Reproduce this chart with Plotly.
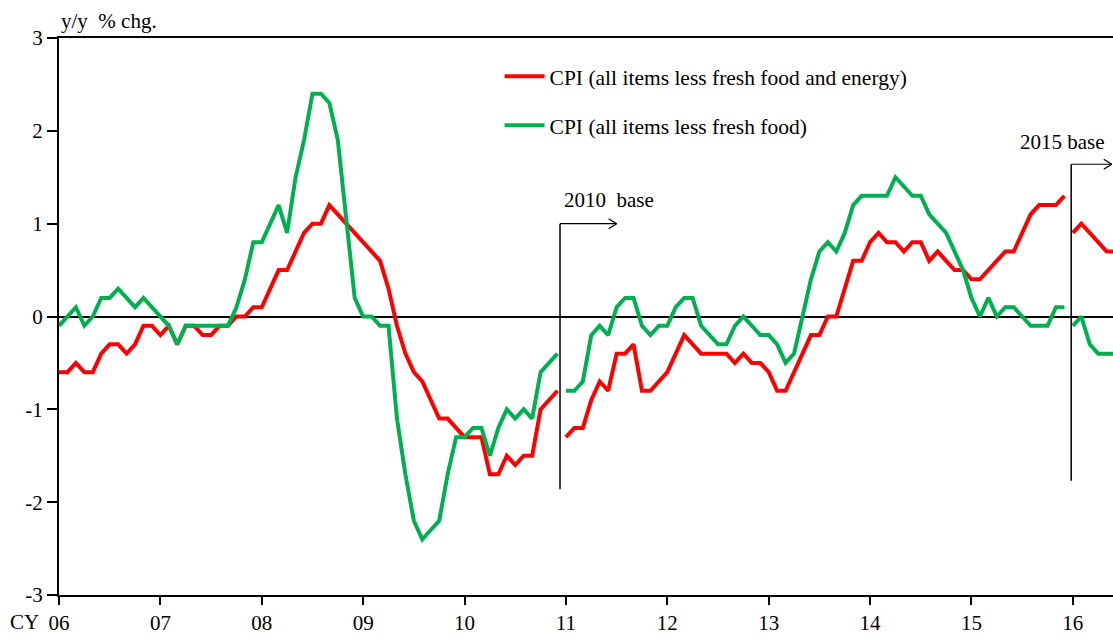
import plotly.graph_objects as go

# ---- data (y/y % chg., monthly, Jan 2006 - Jun 2016) ----
years = ["06", "07", "08", "09", "10", "11", "12", "13", "14", "15", "16"]
y_ticks = [-3, -2, -1, 0, 1, 2, 3]
y_ticktext = ["-3", "-2", "-1", "0", "1", "2", "3"]

# 2005 base: Jan 2006 - Dec 2010
core_core_2005 = [
    -0.6, -0.6, -0.5, -0.6, -0.6, -0.4, -0.3, -0.3, -0.4, -0.3, -0.1, -0.1,
    -0.2, -0.1, -0.3, -0.1, -0.1, -0.2, -0.2, -0.1, -0.1, 0.0, 0.0, 0.1,
    0.1, 0.3, 0.5, 0.5, 0.7, 0.9, 1.0, 1.0, 1.2, 1.1, 1.0, 0.9,
    0.8, 0.7, 0.6, 0.3, -0.1, -0.4, -0.6, -0.7, -0.9, -1.1, -1.1, -1.2,
    -1.3, -1.3, -1.3, -1.7, -1.7, -1.5, -1.6, -1.5, -1.5, -1.0, -0.9, -0.8,
]
core_2005 = [
    -0.1, 0.0, 0.1, -0.1, 0.0, 0.2, 0.2, 0.3, 0.2, 0.1, 0.2, 0.1,
    0.0, -0.1, -0.3, -0.1, -0.1, -0.1, -0.1, -0.1, -0.1, 0.1, 0.4, 0.8,
    0.8, 1.0, 1.2, 0.9, 1.5, 1.9, 2.4, 2.4, 2.3, 1.9, 1.0, 0.2,
    0.0, 0.0, -0.1, -0.1, -1.1, -1.7, -2.2, -2.4, -2.3, -2.2, -1.7, -1.3,
    -1.3, -1.2, -1.2, -1.5, -1.2, -1.0, -1.1, -1.0, -1.1, -0.6, -0.5, -0.4,
]
# 2010 base: Jan 2011 - Dec 2015
core_core_2010 = [
    -1.3, -1.2, -1.2, -0.9, -0.7, -0.8, -0.4, -0.4, -0.3, -0.8, -0.8, -0.7,
    -0.6, -0.4, -0.2, -0.3, -0.4, -0.4, -0.4, -0.4, -0.5, -0.4, -0.5, -0.5,
    -0.6, -0.8, -0.8, -0.6, -0.4, -0.2, -0.2, 0.0, 0.0, 0.3, 0.6, 0.6,
    0.8, 0.9, 0.8, 0.8, 0.7, 0.8, 0.8, 0.6, 0.7, 0.6, 0.5, 0.5,
    0.4, 0.4, 0.5, 0.6, 0.7, 0.7, 0.9, 1.1, 1.2, 1.2, 1.2, 1.3,
]
core_2010 = [
    -0.8, -0.8, -0.7, -0.2, -0.1, -0.2, 0.1, 0.2, 0.2, -0.1, -0.2, -0.1,
    -0.1, 0.1, 0.2, 0.2, -0.1, -0.2, -0.3, -0.3, -0.1, 0.0, -0.1, -0.2,
    -0.2, -0.3, -0.5, -0.4, 0.0, 0.4, 0.7, 0.8, 0.7, 0.9, 1.2, 1.3,
    1.3, 1.3, 1.3, 1.5, 1.4, 1.3, 1.3, 1.1, 1.0, 0.9, 0.7, 0.5,
    0.2, 0.0, 0.2, 0.0, 0.1, 0.1, 0.0, -0.1, -0.1, -0.1, 0.1, 0.1,
]
# 2015 base: Jan 2016 - Jun 2016
core_core_2015 = [0.9, 1.0, 0.9, 0.8, 0.7, 0.7]
core_2015 = [-0.1, 0.0, -0.3, -0.4, -0.4, -0.4]

name_red = "CPI (all items less fresh food and energy)"
name_green = "CPI (all items less fresh food)"


def join_segments(segments):
    xs, ys = [], []
    start = 0
    for seg in segments:
        if xs:
            xs.append(None)
            ys.append(None)
        xs.extend(range(start, start + len(seg)))
        ys.extend(seg)
        start += len(seg)
    return xs, ys


xr, yr = join_segments([core_core_2005, core_core_2010, core_core_2015])
xg, yg = join_segments([core_2005, core_2010, core_2015])

FONT = "Liberation Serif, Times New Roman, serif"
RED = "#FF0000"
GREEN = "#00B050"

fig = go.Figure()
fig.add_trace(go.Scatter(x=xr, y=yr, mode="lines", name=name_red,
                         line=dict(color=RED, width=4), connectgaps=False,
                         legendgroup="a"))
fig.add_trace(go.Scatter(x=xg, y=yg, mode="lines", name=name_green,
                         line=dict(color=GREEN, width=4), connectgaps=False,
                         legendgroup="b"))

tickvals = [12 * i for i in range(len(years))]

fig.update_layout(
    width=1113, height=635,
    margin=dict(l=59, r=0, t=38, b=37),
    paper_bgcolor="white", plot_bgcolor="white",
    font=dict(family=FONT, size=21, color="black"),
    showlegend=True,
    legend=dict(x=0.418, y=0.968, xanchor="left", yanchor="top",
                bgcolor="rgba(0,0,0,0)", font=dict(size=21.5, family=FONT),
                tracegroupgap=18, itemwidth=40),
    xaxis=dict(range=[0, 124.75], tickvals=tickvals, ticktext=years,
               showgrid=False, zeroline=False, showline=True,
               linecolor="black", linewidth=2, mirror=True,
               ticks="outside", ticklen=8, tickwidth=1.5, tickcolor="black",
               tickfont=dict(size=21, family=FONT)),
    yaxis=dict(range=[-3, 3], tickvals=y_ticks, ticktext=y_ticktext,
               showgrid=False,
               zeroline=True, zerolinecolor="black", zerolinewidth=1.5,
               showline=True, linecolor="black", linewidth=2,
               ticks="outside", ticklen=10, tickwidth=1.5, tickcolor="black",
               tickfont=dict(size=21, family=FONT)),
)

# axis unit and "CY" prefix
fig.add_annotation(text="y/y  % chg.", xref="paper", yref="paper",
                   x=0, y=1, xanchor="left", yanchor="bottom",
                   showarrow=False, font=dict(size=21, family=FONT), yshift=3)
fig.add_annotation(text="CY", xref="paper", yref="paper",
                   x=0, y=0, xanchor="right", yanchor="top",
                   showarrow=False, font=dict(size=21, family=FONT),
                   xshift=-18, yshift=-13)

# base-change markers
bases = [
    dict(label="2010  base", x=59.3, y_top=1.0, y_bot=-1.86, x_end=66.0,
         tx=59.5, ty=1.26, anchor="left"),
    dict(label="2015 base", x=119.8, y_top=1.64, y_bot=-1.77, x_end=124.6,
         tx=124.0, ty=1.875, anchor="right"),
]
for b in bases:
    fig.add_shape(type="line", x0=b["x"], x1=b["x"], y0=b["y_bot"], y1=b["y_top"],
                  line=dict(color="black", width=1.5))
    fig.add_shape(type="line", x0=b["x"], x1=b["x_end"], y0=b["y_top"], y1=b["y_top"],
                  line=dict(color="black", width=1.2))
    for dy in (5, -5):
        fig.add_shape(type="line", xsizemode="pixel", ysizemode="pixel",
                      xanchor=b["x_end"], yanchor=b["y_top"],
                      x0=-8, x1=0, y0=dy, y1=0,
                      line=dict(color="black", width=1.2))
    fig.add_annotation(text=b["label"], x=b["tx"], y=b["ty"],
                       xanchor=b["anchor"], yanchor="middle", showarrow=False,
                       font=dict(size=21, family=FONT))

fig.write_html("out.html",
               config={"displayModeBar": False},
               post_script="document.body.style.margin='0';"
                           "document.body.style.overflow='hidden';")
